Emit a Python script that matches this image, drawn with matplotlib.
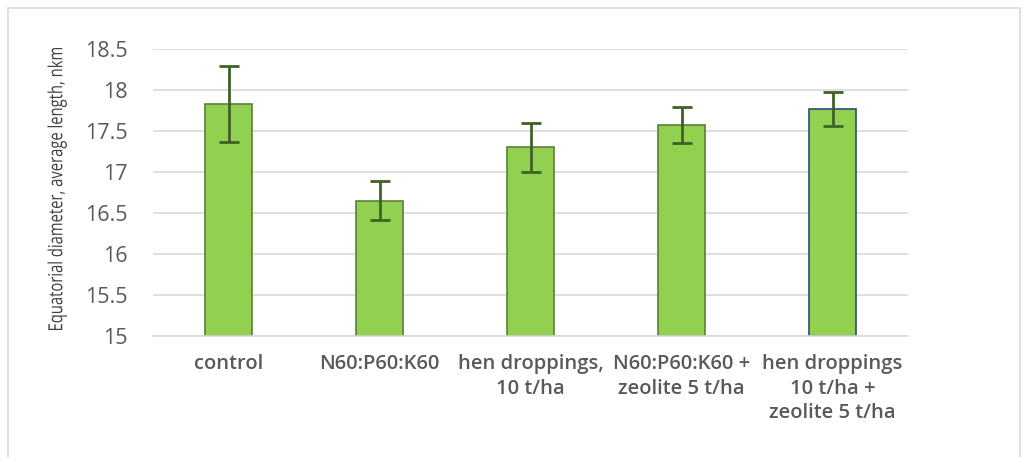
import matplotlib.pyplot as plt
from matplotlib.patches import Rectangle, PathPatch
from matplotlib.textpath import TextPath
from matplotlib.font_manager import FontProperties
from matplotlib.transforms import Affine2D, IdentityTransform

# data
categories = ["control", "N60:P60:K60", "hen droppings,\n10 t/ha",
              "N60:P60:K60 +\nzeolite 5 t/ha", "hen droppings\n10 t/ha +\nzeolite 5 t/ha"]
means = [17.83, 16.65, 17.30, 17.57, 17.77]
errors = [0.46, 0.24, 0.30, 0.22, 0.21]
y_ticks = [15, 15.5, 16, 16.5, 17, 17.5, 18, 18.5]
y_tick_labels = ["15", "15.5", "16", "16.5", "17", "17.5", "18", "18.5"]
y_label = "Equatorial diameter, average length, nkm"

fig = plt.figure(figsize=(10.25, 4.57), dpi=100)
fig.patches.append(Rectangle((8 / 1025, -0.01), 1012 / 1025, 1 - 8 / 457 + 0.01,
                             transform=fig.transFigure, fill=False,
                             edgecolor="#D9D9D9", linewidth=1.2))

ax = fig.add_axes([153 / 1025, 1 - 336 / 457, 755 / 1025, 287 / 457])
edges = ["#5B7F3A"] * 4 + ["#2F4A7F"]
ax.bar(range(len(categories)), [m - 15 for m in means], bottom=15, width=0.31,
       color="#92D050", edgecolor=edges, linewidth=1.2, zorder=2)
ax.errorbar(range(len(categories)), means, yerr=errors, fmt="none",
            ecolor="#3F6227", elinewidth=2, capsize=7, capthick=2, zorder=3)

ax.set_ylim(15, 18.5)
ax.set_xlim(-0.5, 4.5)
ax.set_yticks(y_ticks)
ax.set_yticklabels(y_tick_labels, fontsize=15.5, color="#595959", family="Open Sans")
ax.set_xticks(range(len(categories)))
ax.set_xticklabels(categories, fontsize=14.5, color="#595959", family="Open Sans",
                   fontweight="semibold", linespacing=1.3)
ax.tick_params(length=0, pad=18, axis="y")
ax.tick_params(length=0, pad=13, axis="x")
ax.yaxis.grid(True, color="#D9D9D9", linewidth=1.2, zorder=0)
ax.set_axisbelow(True)
for s in ["top", "right", "left"]:
    ax.spines[s].set_visible(False)
ax.spines["bottom"].set_color("#D9D9D9")
ax.spines["bottom"].set_linewidth(1.2)

# y label: narrow, tall glyphs like the original (squeezed along its length)
tp = TextPath((0, 0), y_label, size=1, prop=FontProperties(family="Open Sans"))
bb = tp.get_extents()
sx = 282 / bb.width
sy = 19.5
tr = (Affine2D().translate(-(bb.x0 + bb.x1) / 2, -0.27)
      .scale(sx, sy).rotate_deg(90).translate(57, 457 - 189))
fig.add_artist(PathPatch(tr.transform_path(tp), transform=IdentityTransform(),
                         facecolor="#404040", edgecolor="none"))

fig.savefig("out.png", dpi=100)
